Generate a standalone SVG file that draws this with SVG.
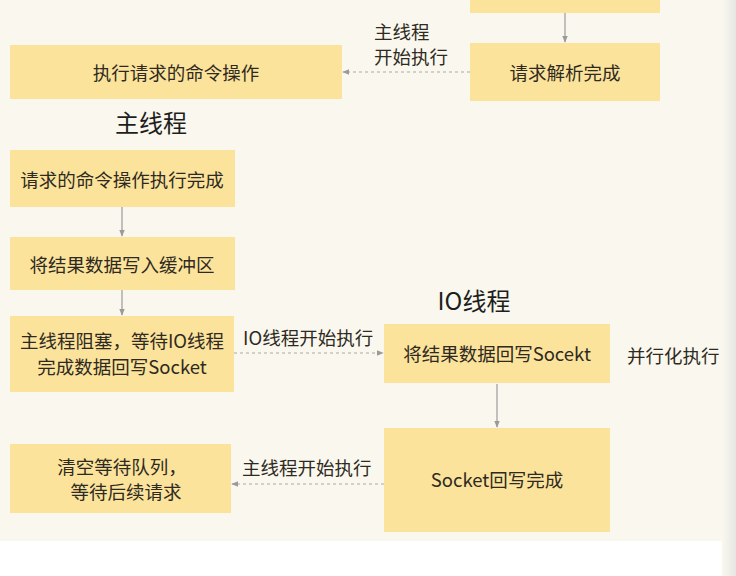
<svg xmlns="http://www.w3.org/2000/svg" width="736" height="576" viewBox="0 0 736 576">
<defs>
<style>
.box{fill:#fce39b;}
.t{font-family:"Noto Sans CJK SC","Liberation Sans",sans-serif;font-size:18.5px;fill:#2e2a22;text-anchor:middle;dominant-baseline:central;}
.h{font-family:"Noto Sans CJK SC","Liberation Sans",sans-serif;font-size:24px;fill:#1e1e1e;text-anchor:middle;dominant-baseline:central;}
.lbl{font-family:"Noto Sans CJK SC","Liberation Sans",sans-serif;font-size:18.5px;fill:#2e2a22;dominant-baseline:central;}
.solid{stroke:#9a9a9a;stroke-width:1.2;fill:none;}
.dash{stroke:#a8a8a8;stroke-width:1.2;stroke-dasharray:3 3;fill:none;}
</style>
<marker id="ah" viewBox="0 0 10 10" refX="9" refY="5" markerWidth="6" markerHeight="6" orient="auto-start-reverse">
<path d="M0,1 L10,5 L0,9 z" fill="#9a9a9a"/>
</marker>
<linearGradient id="edge" x1="0" y1="0" x2="1" y2="0">
<stop offset="0" stop-color="#faf8ee"/>
<stop offset="1" stop-color="#e6e6e4"/>
</linearGradient>
</defs>
<rect x="0" y="0" width="736" height="576" fill="#ffffff"/>
<rect x="0" y="0" width="736" height="541" fill="#faf8ee"/>
<rect x="722" y="0" width="14" height="576" fill="url(#edge)"/>

<g id="connectors">
<line class="solid" x1="565" y1="13" x2="565" y2="42" marker-end="url(#ah)"/>
<line class="dash" x1="470" y1="72" x2="343" y2="72" marker-end="url(#ah)"/>
<line class="solid" x1="122" y1="207" x2="122" y2="236" marker-end="url(#ah)"/>
<line class="solid" x1="122" y1="290" x2="122" y2="315" marker-end="url(#ah)"/>
<line class="dash" x1="234" y1="353" x2="383" y2="353" marker-end="url(#ah)"/>
<line class="solid" x1="497" y1="384" x2="497" y2="427" marker-end="url(#ah)"/>
<line class="dash" x1="384" y1="484" x2="232" y2="484" marker-end="url(#ah)"/>
</g>

<g id="node-top"><rect class="box" x="470" y="0" width="190" height="13"/></g>
<g id="node-parse"><rect class="box" x="470" y="43" width="190" height="58"/><text class="t" x="565" y="72">请求解析完成</text></g>
<g id="node-exec"><rect class="box" x="10" y="45" width="332" height="54"/><text class="t" x="176" y="72">执行请求的命令操作</text></g>
<g id="label-main1"><text class="lbl" x="374" y="31">主线程</text><text class="lbl" x="374" y="56">开始执行</text></g>
<g id="title-main"><text class="h" x="151" y="121">主线程</text></g>
<g id="node-done"><rect class="box" x="10" y="150" width="225" height="57"/><text class="t" x="122" y="179">请求的命令操作执行完成</text></g>
<g id="node-buffer"><rect class="box" x="10" y="237" width="225" height="53"/><text class="t" x="122" y="264">将结果数据写入缓冲区</text></g>
<g id="node-block"><rect class="box" x="10" y="316" width="224" height="76"/><text class="t" x="122" y="340">主线程阻塞，等待IO线程</text><text class="t" x="122" y="366">完成数据回写Socket</text></g>
<g id="title-io"><text class="h" x="474" y="299">IO线程</text></g>
<g id="label-io"><text class="lbl" x="243" y="337">IO线程开始执行</text></g>
<g id="node-write"><rect class="box" x="384" y="324" width="226" height="59"/><text class="t" x="497" y="353">将结果数据回写Socekt</text></g>
<g id="label-par"><text class="lbl" x="627" y="355">并行化执行</text></g>
<g id="node-sockdone"><rect class="box" x="384" y="428" width="226" height="104"/><text class="t" x="497" y="479">Socket回写完成</text></g>
<g id="label-main2"><text class="lbl" x="242" y="467">主线程开始执行</text></g>
<g id="node-clear"><rect class="box" x="10" y="444" width="221" height="69"/><text class="t" x="122" y="466">清空等待队列，</text><text class="t" x="126" y="491">等待后续请求</text></g>
</svg>
